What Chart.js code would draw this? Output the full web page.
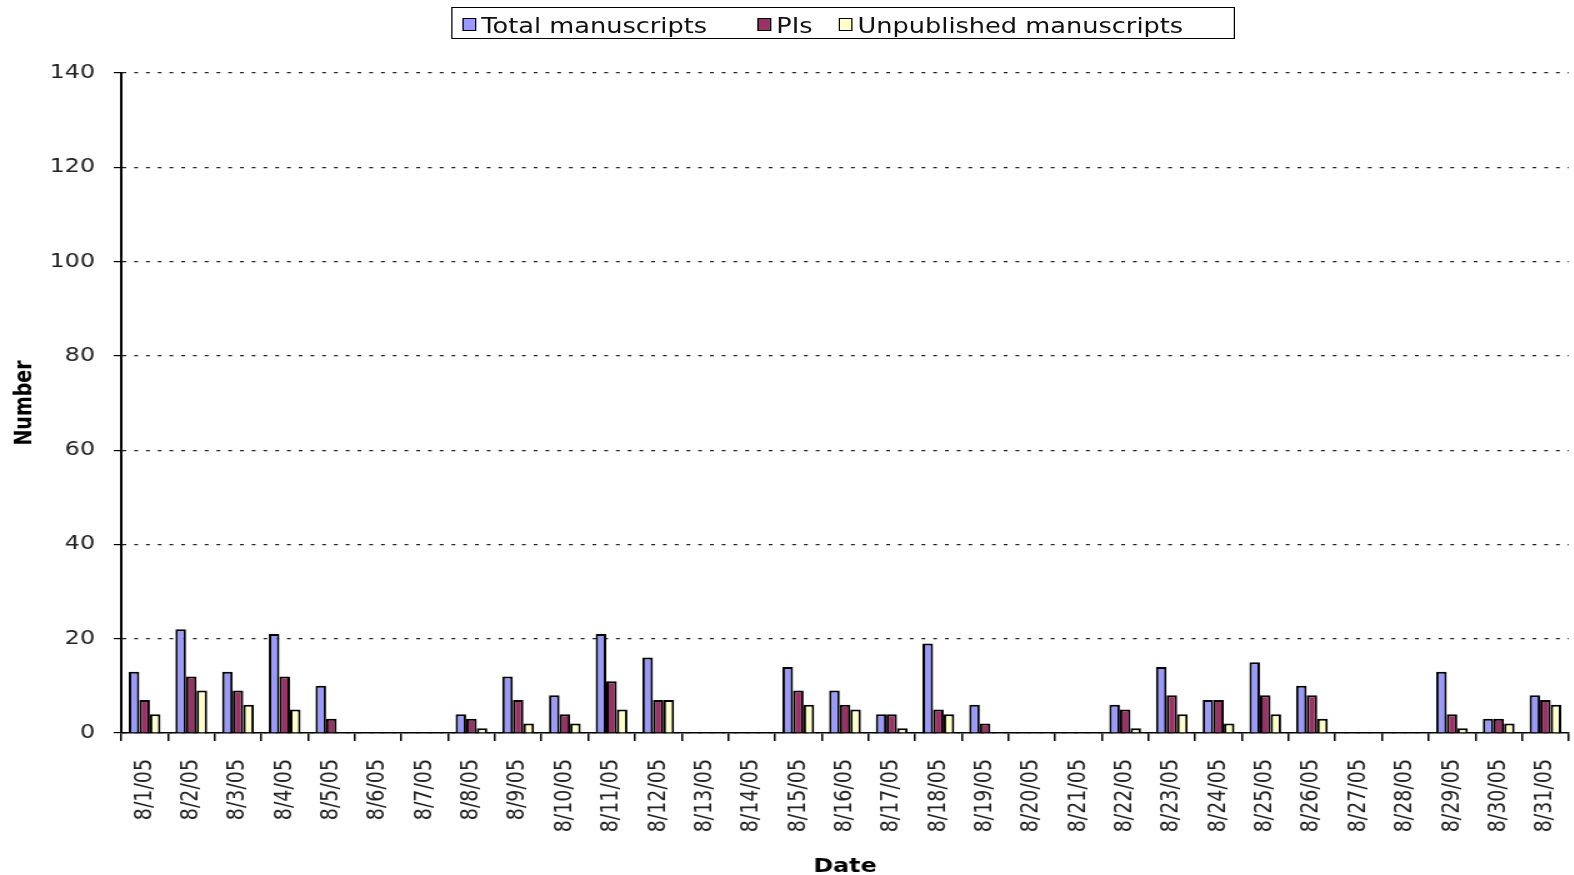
<!DOCTYPE html>
<html>
<head>
<meta charset="utf-8">
<script src="https://cdn.jsdelivr.net/npm/chart.js@4/dist/chart.umd.min.js"></script>
<style>
  html, body { margin: 0; padding: 0; background: #fff; overflow: hidden; }
  /* the original picture is stretched sideways, so draw narrower and stretch */
  #wrap { position: absolute; left: 0; top: 0; width: 1259px; height: 875px;
          transform: scaleX(1.25); transform-origin: 0 0; }
  #legend { position: absolute; left: 361px; top: 7px; width: 625px; height: 30px;
            border: 1.5px solid #000; font-family: "DejaVu Sans", Verdana, sans-serif;
            font-size: 20.5px; color: #111; }
  .item { position: absolute; top: 0; height: 30px; line-height: 30px; white-space: nowrap; }
  .sw { position: absolute; top: 10px; width: 9px; height: 11px; border: 1px solid #000; }
  .txt { position: absolute; left: 15px; top: 3px; }
</style>
</head>
<body>
<div id="wrap">
  <canvas id="chart"></canvas>
  <div id="legend"></div>
</div>
<script>
const dates = [
  "8/1/05", "8/2/05", "8/3/05", "8/4/05", "8/5/05", "8/6/05", "8/7/05", "8/8/05",
  "8/9/05", "8/10/05", "8/11/05", "8/12/05", "8/13/05", "8/14/05", "8/15/05", "8/16/05",
  "8/17/05", "8/18/05", "8/19/05", "8/20/05", "8/21/05", "8/22/05", "8/23/05", "8/24/05",
  "8/25/05", "8/26/05", "8/27/05", "8/28/05", "8/29/05", "8/30/05", "8/31/05"
];
const totalManuscripts = [13, 22, 13, 21, 10, 0, 0, 4, 12, 8, 21, 16, 0, 0, 14, 9, 4, 19, 6, 0, 0, 6, 14, 7, 15, 10, 0, 0, 13, 3, 8];
const pis = [7, 12, 9, 12, 3, 0, 0, 3, 7, 4, 11, 7, 0, 0, 9, 6, 4, 5, 2, 0, 0, 5, 8, 7, 8, 8, 0, 0, 4, 3, 7];
const unpublished = [4, 9, 6, 5, 0, 0, 0, 1, 2, 2, 5, 7, 0, 0, 6, 5, 1, 4, 0, 0, 0, 1, 4, 2, 4, 3, 0, 0, 1, 2, 6];
const seriesNames = ["Total manuscripts", "PIs", "Unpublished manuscripts"];
const seriesColors = ["#9999FF", "#993366", "#FFFFCC"];

// legend drawn as html so the item gaps match the picture
const legendPos = [8, 244, 309];
const legendEl = document.getElementById("legend");
seriesNames.forEach((name, i) => {
  const item = document.createElement("div");
  item.className = "item";
  item.style.left = legendPos[i] + "px";
  item.innerHTML = `<span class="sw" style="background:${seriesColors[i]}"></span><span class="txt">${name}</span>`;
  legendEl.appendChild(item);
});

const FONT = "'DejaVu Sans', Verdana, sans-serif";
const values = [totalManuscripts, pis, unpublished];

new Chart(document.getElementById("chart"), {
  type: "bar",
  data: {
    labels: dates,
    datasets: values.map((data, i) => ({
      label: seriesNames[i],
      data,
      backgroundColor: seriesColors[i],
      borderColor: "#000",
      borderWidth: 2,
      categoryPercentage: 0.68,
      barPercentage: 1.0
    }))
  },
  options: {
    responsive: true,
    maintainAspectRatio: false,
    animation: false,
    layout: { padding: { top: 73, right: 4, left: 0, bottom: 0 } },
    plugins: {
      legend: { display: false },
      tooltip: { enabled: false }
    },
    scales: {
      x: {
        afterFit: axis => { axis.height = 142; axis.paddingRight = 0; axis.paddingLeft = 0; },
        grid: { offset: true, drawOnChartArea: false, drawTicks: true, tickLength: 8, color: "#000", lineWidth: 1.5 },
        border: { color: "#000", width: 1.5 },
        ticks: {
          autoSkip: false, maxRotation: 90, minRotation: 90, padding: 18,
          color: "#222", font: { family: FONT, size: 19 }
        },
        title: {
          display: true, text: "Date", color: "#000",
          font: { family: FONT, size: 19, weight: "bold" },
          padding: { top: 0, bottom: -3 }
        }
      },
      y: {
        min: 0, max: 140,
        afterFit: axis => { axis.width = 97; },
        grid: {
          color: "#222", lineWidth: 1.2,
          tickBorderDash: [], tickColor: "#000", tickLength: 6
        },
        border: { color: "#000", width: 2, dash: [3, 6.4] },
        ticks: {
          stepSize: 20, padding: 15,
          color: "#222", font: { family: FONT, size: 19 }
        },
        title: {
          display: true, text: "Number", color: "#000",
          font: { family: FONT, size: 19, weight: "bold" },
          padding: { top: 9, bottom: 0 }
        }
      }
    }
  }
});
</script>
</body>
</html>
